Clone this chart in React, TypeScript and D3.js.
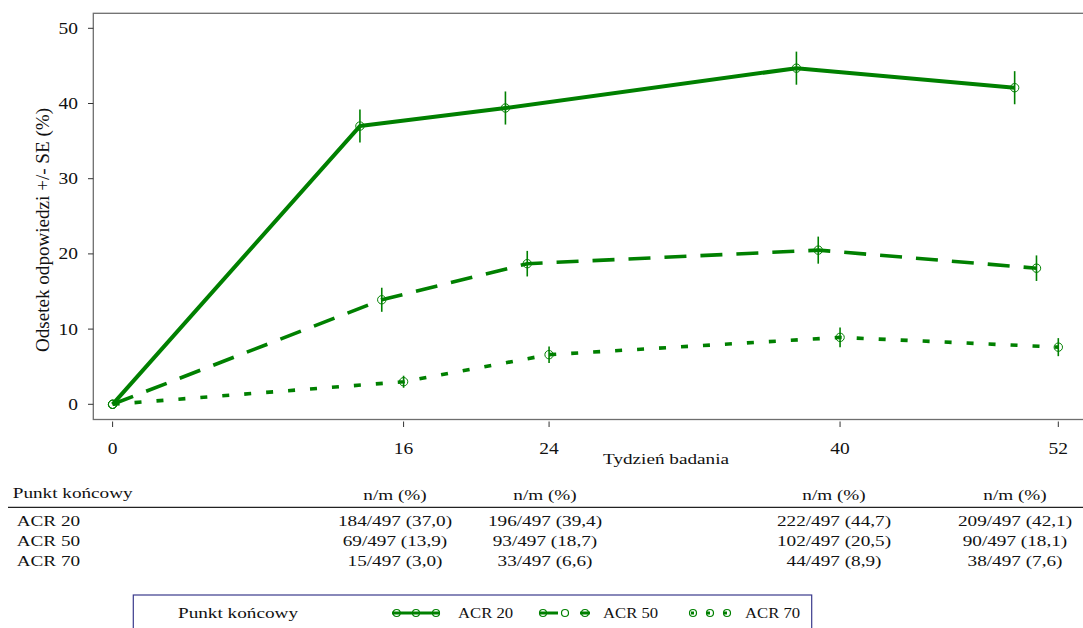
import React from "react";
import * as d3 from "d3";

const W = 1083;
const H = 628;

const weeks = [0, 16, 24, 40, 52];
const seriesNames = ["ACR 20", "ACR 50", "ACR 70"];
const acr20 = [0, 37.0, 39.4, 44.7, 42.1];
const acr50 = [0, 13.9, 18.7, 20.5, 18.1];
const acr70 = [0, 3.0, 6.6, 8.9, 7.6];
const se20 = [0, 2.2, 2.2, 2.2, 2.2];
const se50 = [0, 1.6, 1.7, 1.8, 1.7];
const se70 = [0, 0.8, 1.1, 1.3, 1.2];
const dodgeWeeks = [-2.4, -1.2, 0];

const yTicks = [0, 10, 20, 30, 40, 50];
const xTicks = [0, 16, 24, 40, 52];

const tableTitle = "Punkt końcowy";
const tableHeader = ["n/m (%)", "n/m (%)", "n/m (%)", "n/m (%)"];
const row20 = ["184/497 (37,0)", "196/497 (39,4)", "222/497 (44,7)", "209/497 (42,1)"];
const row50 = ["69/497 (13,9)", "93/497 (18,7)", "102/497 (20,5)", "90/497 (18,1)"];
const row70 = ["15/497 (3,0)", "33/497 (6,6)", "44/497 (8,9)", "38/497 (7,6)"];

const GREEN = "#008000";
const FONT = "'Liberation Serif', 'Times New Roman', serif";
const SX = 1.24;

const dashes = ["none", "22 14", "7 15"];
const widths = [4, 3.6, 3.6];

function T({ x, y, children, anchor = "start", size = 15.5, sx = SX }: any) {
  return (
    <g transform={`translate(${x},${y}) scale(${sx},1)`}>
      <text
        x={0}
        y={0}
        textAnchor={anchor}
        dominantBaseline="central"
        fontSize={size}
        fontFamily={FONT}
        fill="#111"
      >
        {children}
      </text>
    </g>
  );
}

export default function App() {
  const x = d3.scaleLinear().domain([0, 52]).range([112.6, 1058.3]);
  const y = d3.scaleLinear().domain([0, 50]).range([404.3, 28.3]);

  const values = [acr20, acr50, acr70];
  const ses = [se20, se50, se70];
  const rows = [row20, row50, row70];
  const tableColX = [395, 545, 834, 1015];

  const px = (si: number, i: number) => x(weeks[i] + (weeks[i] > 0 ? dodgeWeeks[si] : 0));

  const line = (si: number) =>
    d3
      .line<number>()
      .x((_, i) => px(si, i))
      .y((v) => y(v))(values[si]) || "";

  const frameLeft = 93.3;
  const frameTop = 13.3;
  const frameBottom = 419.5;

  const legendY = 613;

  return (
    <svg
      width={W}
      height={H}
      style={{ position: "absolute", left: 0, top: 0, display: "block", background: "#fff" }}
    >
      <rect x={0} y={0} width={W} height={H} fill="#fff" />
      {/* frame */}
      <rect
        x={frameLeft}
        y={frameTop}
        width={W - frameLeft + 10}
        height={frameBottom - frameTop}
        fill="none"
        stroke="#6e6e6e"
        strokeWidth={1.3}
      />
      {/* y axis */}
      {yTicks.map((t) => (
        <g key={"y" + t}>
          <line x1={88} x2={frameLeft} y1={y(t)} y2={y(t)} stroke="#333" strokeWidth={1} />
          <T x={78} y={y(t)} anchor="end" size={16.5} sx={1.18}>
            {t}
          </T>
        </g>
      ))}
      <g transform={`translate(42.5,230) rotate(-90)`}>
        <text
          x={0}
          y={0}
          textAnchor="middle"
          dominantBaseline="central"
          fontSize={19}
          fontFamily={FONT}
          fill="#111"
          textLength={244}
          lengthAdjust="spacingAndGlyphs"
        >
          Odsetek odpowiedzi +/- SE (%)
        </text>
      </g>
      {/* x axis */}
      {xTicks.map((t) => (
        <g key={"x" + t}>
          <line x1={x(t)} x2={x(t)} y1={421.5} y2={427} stroke="#333" strokeWidth={1} />
          <T x={x(t)} y={449} anchor="middle" size={16.5} sx={1.18}>
            {t}
          </T>
        </g>
      ))}
      <T x={603} y={459}>
        Tydzień badania
      </T>

      {/* series */}
      {values.map((vals, si) => (
        <g key={"s" + si}>
          <path
            d={line(si)}
            fill="none"
            stroke={GREEN}
            strokeWidth={widths[si]}
            strokeDasharray={dashes[si]}
            strokeLinejoin="round"
          />
          {vals.map((v, i) => (
            <g key={i}>
              {ses[si][i] > 0 && (
                <line
                  x1={px(si, i)}
                  x2={px(si, i)}
                  y1={y(v - ses[si][i])}
                  y2={y(v + ses[si][i])}
                  stroke={GREEN}
                  strokeWidth={1.6}
                />
              )}
              <circle cx={px(si, i)} cy={y(v)} r={4.2} fill="none" stroke={GREEN} strokeWidth={1} />
            </g>
          ))}
        </g>
      ))}

      {/* table */}
      <T x={12.7} y={493}>
        {tableTitle}
      </T>
      {tableHeader.map((h, j) => (
        <T key={"h" + j} x={tableColX[j]} y={495} anchor="middle">
          {h}
        </T>
      ))}
      <line x1={8} x2={W} y1={507.3} y2={507.3} stroke="#222" strokeWidth={1.2} />
      {rows.map((r, ri) => (
        <g key={"r" + ri}>
          <T x={16.7} y={520.5 + ri * 19.9}>
            {seriesNames[ri]}
          </T>
          {r.map((c, j) => (
            <T key={j} x={tableColX[j]} y={520.5 + ri * 19.9} anchor="middle">
              {c}
            </T>
          ))}
        </g>
      ))}

      {/* legend */}
      <rect x={133.3} y={595} width={678.4} height={60} fill="none" stroke="#3a3a8c" strokeWidth={1.2} />
      <T x={178} y={legendY}>
        {tableTitle}
      </T>
      {/* ACR 20 symbol */}
      <g>
        <line x1={392} x2={440} y1={legendY} y2={legendY} stroke={GREEN} strokeWidth={3} />
        {[396.7, 416, 436].map((cx) => (
          <circle key={cx} cx={cx} cy={legendY} r={3.5} fill="none" stroke={GREEN} strokeWidth={1.2} />
        ))}
        <T x={458} y={legendY} size={14.5} sx={1.15}>
          {seriesNames[0]}
        </T>
      </g>
      {/* ACR 50 symbol */}
      <g>
        <line x1={540} x2={558} y1={legendY} y2={legendY} stroke={GREEN} strokeWidth={3} />
        <line x1={580} x2={590} y1={legendY} y2={legendY} stroke={GREEN} strokeWidth={3} />
        {[543, 565, 585].map((cx) => (
          <circle key={cx} cx={cx} cy={legendY} r={3.5} fill="none" stroke={GREEN} strokeWidth={1.2} />
        ))}
        <T x={603} y={legendY} size={14.5} sx={1.15}>
          {seriesNames[1]}
        </T>
      </g>
      {/* ACR 70 symbol */}
      <g>
        {[693, 710, 727].map((cx, k) => (
          <g key={cx}>
            <circle cx={cx} cy={legendY} r={3.5} fill="none" stroke={GREEN} strokeWidth={1.2} />
            <line
              x1={cx - (k === 0 ? 2 : 3)}
              x2={cx + (k === 0 ? 1 : 0)}
              y1={legendY}
              y2={legendY}
              stroke={GREEN}
              strokeWidth={3}
            />
          </g>
        ))}
        <T x={745} y={legendY} size={14.5} sx={1.15}>
          {seriesNames[2]}
        </T>
      </g>
    </svg>
  );
}
